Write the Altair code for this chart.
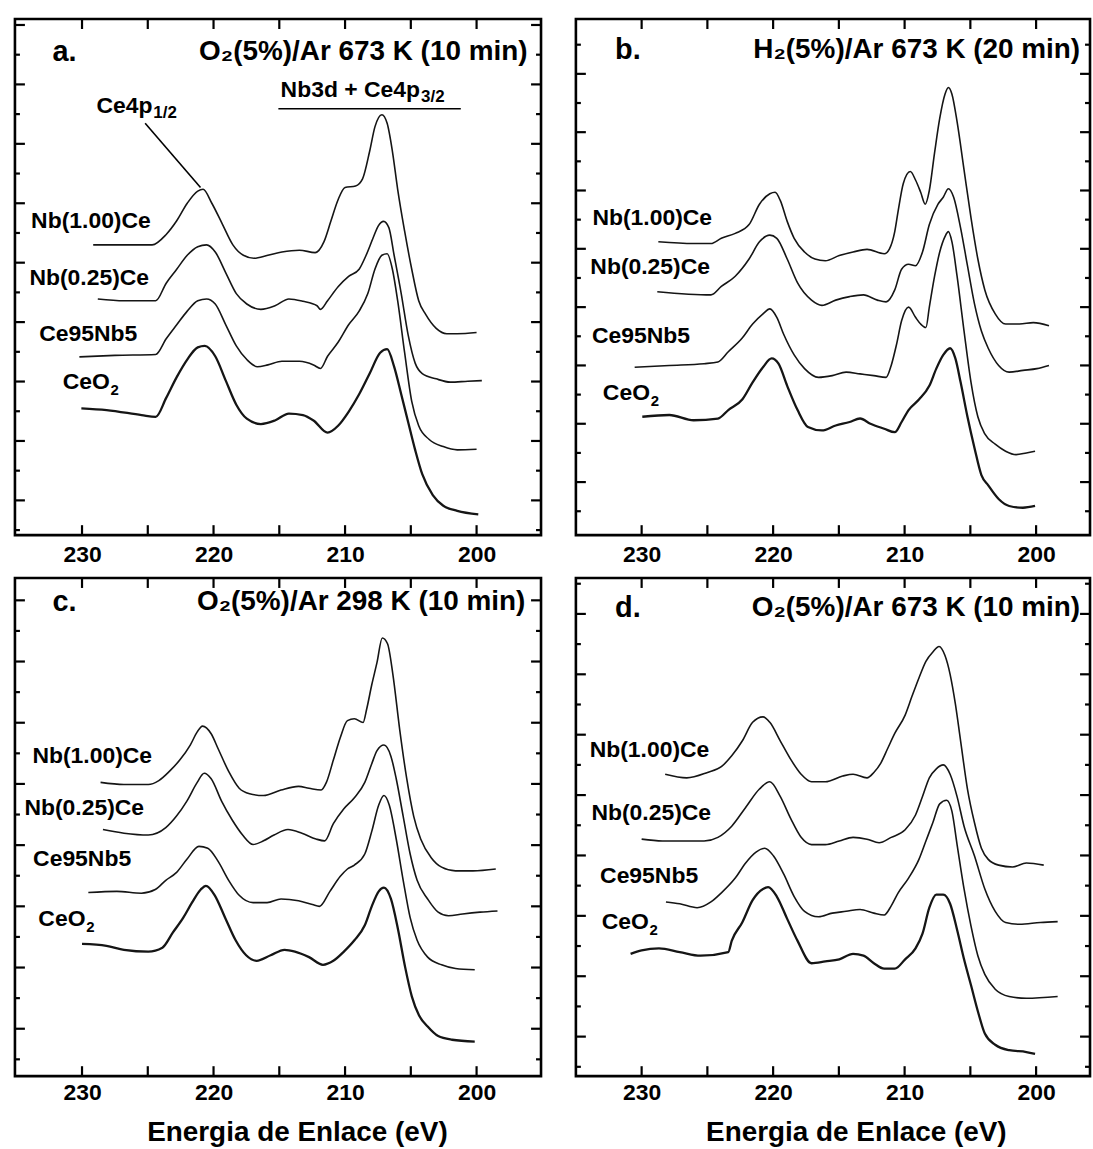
import altair as alt
import pandas as pd

FONT = "Liberation Sans"
INK = "#151515"

SAMPLES = ["Nb(1.00)Ce", "Nb(0.25)Ce", "Ce95Nb5", "CeO2"]
XLABELS = [230, 220, 210, 200]
XTICKS = [230, 225, 220, 215, 210, 205, 200]

# ---------------- panel a : O2(5%)/Ar 673 K (10 min) ----------------
A_NB100 = [(229.15, 9.77), (228.13, 9.77), (226.8, 9.77), (224.67, 9.77), (223.6, 10.12), (222.8, 10.58),
           (222.0, 11.17), (221.2, 11.58), (220.8, 11.64), (220.13, 11.17), (219.33, 10.47), (218.53, 9.77),
           (217.73, 9.42), (216.93, 9.32), (215.87, 9.42), (214.8, 9.53), (213.47, 9.59), (212.27, 9.51),
           (211.6, 9.88), (211.07, 10.58), (210.53, 11.29), (210.0, 11.70), (209.2, 11.75), (208.67, 11.99),
           (208.13, 12.92), (207.73, 13.74), (207.2, 14.15), (206.8, 13.86), (206.4, 12.92), (206.0, 11.64),
           (205.47, 10.23), (204.93, 8.95), (204.4, 7.89), (203.87, 7.43), (203.07, 6.96), (202.27, 6.78),
           (201.47, 6.78), (200.0, 6.82)]
A_NB025 = [(228.8, 7.95), (226.8, 7.89), (224.4, 7.89), (223.6, 8.48), (222.8, 8.95), (222.0, 9.42),
           (221.2, 9.71), (220.53, 9.77), (219.87, 9.53), (219.07, 8.83), (218.27, 8.13), (217.47, 7.78),
           (216.4, 7.60), (215.33, 7.72), (214.27, 7.95), (213.2, 7.87), (212.13, 7.72), (211.87, 7.60),
           (211.33, 7.89), (210.53, 8.36), (209.73, 8.71), (208.93, 8.95), (208.4, 9.42), (207.87, 10.0),
           (207.47, 10.41), (207.07, 10.56), (206.67, 10.35), (206.27, 9.42), (205.73, 8.13), (205.2, 6.73),
           (204.67, 5.79), (204.13, 5.44), (203.07, 5.26), (202.0, 5.15), (200.67, 5.18), (199.6, 5.20)]
A_CE95 = [(230.2, 6.0), (227.5, 6.05), (224.4, 6.08), (223.6, 6.61), (222.8, 7.08), (222.0, 7.54),
          (221.2, 7.89), (220.53, 7.95), (219.87, 7.78), (219.07, 7.08), (218.27, 6.37), (217.47, 5.91),
          (216.67, 5.67), (215.87, 5.73), (214.8, 5.85), (213.47, 5.85), (212.4, 5.73), (211.87, 5.61),
          (211.33, 6.02), (210.53, 6.49), (209.73, 7.08), (208.93, 7.54), (208.27, 8.13), (207.73, 8.95),
          (207.2, 9.42), (206.8, 9.47), (206.4, 8.95), (206.0, 7.89), (205.47, 6.14), (204.93, 4.50),
          (204.4, 3.68), (203.6, 3.22), (202.53, 2.98), (201.47, 2.87), (200.0, 2.89)]
A_CEO2 = [(230.05, 4.27), (228.13, 4.21), (225.47, 4.04), (224.4, 3.98), (223.6, 4.62), (222.8, 5.32),
          (222.0, 5.91), (221.2, 6.32), (220.67, 6.37), (219.87, 6.02), (219.07, 5.20), (218.27, 4.39),
          (217.47, 3.92), (216.4, 3.74), (215.33, 3.86), (214.27, 4.09), (213.2, 4.04), (212.4, 3.86),
          (211.33, 3.45), (210.53, 3.68), (209.73, 4.15), (208.93, 4.74), (208.13, 5.44), (207.33, 6.14),
          (206.8, 6.26), (206.27, 5.67), (205.73, 4.74), (205.2, 3.80), (204.67, 2.87), (204.13, 2.05),
          (203.33, 1.35), (202.53, 0.99), (201.47, 0.82), (199.87, 0.70)]

# ---------------- panel b : H2(5%)/Ar 673 K (20 min) ----------------
B_NB100 = [(228.73, 10.06), (226.05, 10.0), (224.73, 10.0), (223.94, 10.18), (222.88, 10.35), (221.83, 10.65),
           (221.04, 11.35), (220.25, 11.71), (219.85, 11.76), (219.45, 11.47), (218.93, 10.76), (218.40, 10.18),
           (217.61, 9.71), (216.82, 9.47), (216.03, 9.41), (214.97, 9.59), (213.92, 9.71), (212.86, 9.8),
           (211.55, 9.65), (211.15, 9.82), (210.75, 10.41), (210.49, 11.12), (210.10, 12.06), (209.57, 12.47),
           (209.17, 12.18), (208.78, 11.76), (208.43, 11.35), (208.12, 11.82), (207.72, 13.12), (207.33, 14.29),
           (206.93, 15.12), (206.67, 15.35), (206.40, 15.12), (206.01, 14.18), (205.48, 12.53), (204.95, 10.88),
           (204.43, 9.47), (203.90, 8.41), (203.11, 7.59), (202.32, 7.24), (201.26, 7.24), (200.21, 7.29),
           (199.02, 7.18)]
B_NB025 = [(228.81, 8.35), (224.73, 8.24), (223.94, 8.53), (222.88, 8.88), (221.83, 9.47), (221.04, 10.06),
           (220.25, 10.29), (219.72, 10.18), (218.93, 9.47), (218.14, 8.65), (217.08, 8.06), (216.29, 7.88),
           (215.24, 8.06), (214.18, 8.18), (213.13, 8.24), (212.07, 8.06), (211.41, 8.0), (210.75, 8.41),
           (210.23, 9.12), (209.70, 9.29), (209.17, 9.24), (208.64, 9.71), (208.12, 10.65), (207.46, 11.35),
           (207.06, 11.59), (206.67, 11.88), (206.27, 11.59), (205.74, 10.53), (205.22, 9.24), (204.69, 7.94),
           (204.16, 7.0), (203.64, 6.41), (202.85, 5.82), (202.05, 5.59), (201.0, 5.65), (199.94, 5.71),
           (199.02, 5.82)]
B_CE95 = [(230.53, 5.76), (227.89, 5.82), (225.25, 5.88), (224.20, 5.94), (223.41, 6.29), (222.35, 6.76),
          (221.56, 7.24), (220.77, 7.59), (220.25, 7.76), (219.72, 7.47), (219.19, 6.88), (218.40, 6.18),
          (217.61, 5.71), (216.55, 5.41), (215.50, 5.47), (214.45, 5.59), (213.39, 5.53), (212.34, 5.47),
          (211.41, 5.41), (211.02, 5.82), (210.62, 6.53), (210.23, 7.35), (209.70, 7.82), (209.17, 7.47),
          (208.78, 7.24), (208.38, 7.12), (208.12, 7.82), (207.72, 8.88), (207.33, 9.71), (206.93, 10.24),
          (206.67, 10.41), (206.40, 10.06), (206.01, 8.88), (205.48, 7.0), (204.95, 5.24), (204.43, 4.06),
          (203.90, 3.47), (203.11, 3.12), (202.32, 2.88), (201.53, 2.76), (200.74, 2.82), (200.08, 2.88)]
B_CEO2 = [(229.95, 4.06), (227.89, 4.12), (226.05, 3.94), (224.20, 4.0), (223.41, 4.29), (222.35, 4.65),
          (221.56, 5.24), (220.77, 5.76), (220.11, 6.06), (219.59, 5.88), (218.93, 5.12), (218.14, 4.29),
          (217.35, 3.71), (216.29, 3.59), (215.24, 3.76), (214.18, 3.88), (213.39, 4.0), (212.60, 3.82),
          (211.55, 3.65), (210.75, 3.53), (210.23, 3.88), (209.70, 4.29), (208.91, 4.65), (208.12, 5.12),
          (207.59, 5.71), (207.06, 6.18), (206.54, 6.41), (206.14, 6.06), (205.74, 5.24), (205.22, 4.06),
          (204.69, 3.0), (204.16, 2.06), (203.64, 1.71), (202.85, 1.24), (202.05, 1.0), (201.0, 0.94),
          (200.08, 1.0)]

# ---------------- panel c : O2(5%)/Ar 298 K (10 min) ----------------
C_NB100 = [(228.59, 9.60), (226.81, 9.53), (224.96, 9.53), (224.16, 9.66), (223.36, 9.96), (222.57, 10.33),
           (221.77, 10.82), (221.24, 11.25), (220.84, 11.44), (220.18, 11.19), (219.65, 10.70), (218.85, 9.96),
           (218.05, 9.41), (217.26, 9.23), (216.20, 9.17), (214.87, 9.35), (213.54, 9.47), (212.74, 9.41),
           (211.82, 9.35), (211.42, 9.60), (210.89, 10.33), (210.36, 11.07), (209.82, 11.62), (209.29, 11.68),
           (208.63, 11.56), (208.36, 11.99), (207.97, 12.79), (207.57, 13.52), (207.17, 14.32), (206.77, 14.13),
           (206.37, 13.15), (205.84, 11.31), (205.31, 9.72), (204.78, 8.49), (204.25, 7.75), (203.45, 7.14),
           (202.66, 6.83), (201.60, 6.71), (200.27, 6.71), (198.54, 6.77)]
C_NB025 = [(228.41, 8.06), (226.81, 7.94), (224.96, 7.88), (223.63, 8.12), (222.83, 8.49), (222.04, 8.98),
           (221.24, 9.60), (220.71, 9.90), (220.18, 9.72), (219.38, 8.98), (218.58, 8.37), (217.79, 7.88),
           (216.99, 7.57), (216.20, 7.69), (215.40, 7.88), (214.34, 8.06), (213.28, 7.94), (212.21, 7.75),
           (211.55, 7.69), (210.89, 8.25), (210.09, 8.74), (209.29, 9.10), (208.50, 9.60), (207.97, 10.21),
           (207.57, 10.64), (207.04, 10.82), (206.51, 10.45), (206.11, 9.72), (205.58, 8.49), (205.05, 7.26),
           (204.52, 6.40), (203.72, 5.79), (202.92, 5.36), (202.13, 5.24), (201.06, 5.30), (199.74, 5.36),
           (198.41, 5.40)]
C_CE95 = [(229.52, 6.0), (227.35, 6.04), (225.49, 5.98), (224.43, 6.10), (223.63, 6.40), (222.83, 6.65),
          (222.04, 7.08), (221.11, 7.51), (220.44, 7.45), (219.65, 7.02), (218.85, 6.40), (218.05, 5.91),
          (216.99, 5.67), (215.93, 5.67), (214.87, 5.79), (213.54, 5.73), (212.48, 5.61), (211.95, 5.55),
          (211.15, 6.04), (210.36, 6.53), (209.82, 6.77), (209.29, 6.90), (208.50, 7.26), (207.97, 8.0),
          (207.44, 8.86), (207.04, 9.17), (206.64, 8.86), (206.11, 7.75), (205.58, 6.40), (205.05, 5.18),
          (204.52, 4.44), (203.72, 3.89), (202.66, 3.64), (201.60, 3.52), (200.14, 3.48)]
C_CEO2 = [(230.0, 4.32), (228.14, 4.26), (226.81, 4.13), (224.96, 4.07), (223.89, 4.20), (223.10, 4.69),
          (222.30, 5.18), (221.64, 5.67), (220.97, 6.10), (220.58, 6.22), (219.91, 5.91), (219.12, 5.18),
          (218.32, 4.44), (217.52, 3.95), (216.73, 3.77), (215.66, 3.95), (214.60, 4.13), (213.81, 4.07),
          (212.74, 3.89), (211.68, 3.64), (210.89, 3.77), (210.09, 4.07), (209.29, 4.44), (208.50, 4.93),
          (207.97, 5.55), (207.44, 6.04), (207.04, 6.16), (206.51, 5.79), (205.98, 4.81), (205.44, 3.58),
          (204.92, 2.60), (204.38, 1.99), (203.72, 1.62), (202.92, 1.31), (201.86, 1.19), (200.14, 1.13)]

# ---------------- panel d : O2(5%)/Ar 673 K (10 min) ----------------
D_NB100 = [(228.21, 10.0), (226.57, 9.88), (224.99, 10.06), (223.94, 10.25), (223.15, 10.61), (222.35, 11.10),
           (221.56, 11.72), (220.77, 11.90), (220.25, 11.72), (219.45, 11.10), (218.66, 10.49), (217.87, 10.0),
           (217.08, 9.75), (216.03, 9.75), (214.71, 9.94), (213.92, 10.0), (212.86, 9.88), (212.34, 10.06),
           (211.81, 10.37), (211.28, 10.86), (210.75, 11.35), (209.96, 11.96), (209.44, 12.58), (208.91, 13.19),
           (208.38, 13.74), (207.85, 14.05), (207.38, 14.23), (206.93, 13.93), (206.54, 13.31), (206.14, 12.33),
           (205.74, 11.10), (205.22, 9.51), (204.69, 8.40), (204.16, 7.55), (203.64, 7.18), (202.85, 6.99),
           (201.79, 6.93), (200.74, 7.06), (199.42, 6.99)]
D_NB025 = [(230.0, 7.85), (228.42, 7.79), (226.57, 7.79), (225.25, 7.79), (224.20, 7.91), (223.15, 8.28),
           (222.09, 8.90), (221.04, 9.51), (220.25, 9.75), (219.45, 9.26), (218.66, 8.53), (217.87, 7.91),
           (217.08, 7.67), (216.03, 7.67), (214.97, 7.79), (213.92, 7.91), (212.86, 7.85), (211.94, 7.73),
           (211.02, 7.91), (209.96, 8.16), (209.17, 8.65), (208.64, 9.26), (208.12, 9.88), (207.59, 10.18),
           (207.06, 10.31), (206.54, 10.0), (206.01, 9.26), (205.48, 8.28), (204.69, 7.30), (203.90, 6.20),
           (203.11, 5.46), (202.32, 5.09), (201.26, 5.03), (199.68, 5.09), (198.36, 5.12)]
D_CE95 = [(228.15, 5.77), (227.10, 5.71), (225.78, 5.58), (224.73, 5.77), (223.94, 6.07), (222.88, 6.56),
          (222.09, 7.06), (221.30, 7.42), (220.64, 7.55), (219.98, 7.30), (219.19, 6.69), (218.40, 5.95),
          (217.61, 5.46), (216.55, 5.28), (215.50, 5.40), (214.45, 5.46), (213.39, 5.52), (212.34, 5.40),
          (211.55, 5.34), (211.02, 5.64), (210.49, 6.07), (209.70, 6.56), (208.91, 7.18), (208.38, 7.79),
          (207.85, 8.40), (207.33, 9.02), (206.80, 9.14), (206.40, 8.77), (206.01, 7.67), (205.48, 6.20),
          (204.95, 4.97), (204.43, 3.99), (203.90, 3.37), (203.11, 2.88), (202.05, 2.64), (200.74, 2.58),
          (198.36, 2.64)]
D_CEO2 = [(230.84, 4.05), (230.0, 4.17), (228.68, 4.23), (227.10, 4.11), (225.52, 3.99), (223.41, 4.11),
          (223.15, 4.48), (222.35, 5.09), (221.56, 5.83), (220.77, 6.20), (220.38, 6.26), (219.72, 5.95),
          (218.93, 5.21), (218.14, 4.48), (217.08, 3.74), (216.03, 3.80), (214.97, 3.87), (213.92, 4.05),
          (213.13, 3.99), (212.34, 3.74), (211.55, 3.56), (210.75, 3.56), (209.96, 3.87), (209.17, 4.23),
          (208.64, 4.72), (208.12, 5.58), (207.59, 6.01), (207.06, 6.01), (206.54, 5.71), (206.01, 4.85),
          (205.48, 3.87), (204.95, 3.01), (204.43, 2.15), (203.90, 1.41), (203.11, 1.04), (202.05, 0.86),
          (200.74, 0.80), (200.08, 0.74)]

# sample labels (left edge in eV, vertical centre in intensity units)
LAB_A = [("Nb(1.00)Ce", 233.87, 10.58), ("Nb(0.25)Ce", 234.0, 8.65), ("Ce95Nb5", 233.25, 6.78), ("CeO", 231.47, 5.15)]
LAB_B = [("Nb(1.00)Ce", 233.74, 10.88), ("Nb(0.25)Ce", 233.9, 9.18), ("Ce95Nb5", 233.77, 6.82), ("CeO", 232.95, 4.88)]
LAB_C = [("Nb(1.00)Ce", 233.77, 10.45), ("Nb(0.25)Ce", 234.38, 8.76), ("Ce95Nb5", 233.72, 7.08), ("CeO", 233.32, 5.12)]
LAB_D = [("Nb(1.00)Ce", 233.95, 10.8), ("Nb(0.25)Ce", 233.82, 8.71), ("Ce95Nb5", 233.16, 6.63), ("CeO", 233.03, 5.09)]

TITLES = {
    "a": ("a.", "O\u2082(5%)/Ar 673 K (10 min)"),
    "b": ("b.", "H\u2082(5%)/Ar 673 K (20 min)"),
    "c": ("c.", "O\u2082(5%)/Ar 298 K (10 min)"),
    "d": ("d.", "O\u2082(5%)/Ar 673 K (10 min)"),
}
AXIS_TITLE = "Energia de Enlace (eV)"


def curve_frame(series):
    rows = []
    for name, pts in zip(SAMPLES, series):
        for e, i in pts:
            rows.append({"sample": name, "E": e, "I": i})
    return pd.DataFrame(rows)


def panel(key, series, labels, xdom, ydom, W, H, ytick0, letter_pos, title_pos,
          bottom_title=False, label_pad=8, title_x=0, annot=False):
    xs = alt.Scale(domain=xdom, reverse=True, nice=False, zero=False)
    ys = alt.Scale(domain=ydom, nice=False, zero=False)
    axis_kw = dict(values=XLABELS, ticks=False, domain=False, grid=False, labelFont=FONT,
                   labelFontSize=23, labelFontWeight="bold", labelColor="black",
                   labelPadding=label_pad, labelFlush=False, format="d")
    if bottom_title:
        axis_kw.update(title=AXIS_TITLE, titleFont=FONT, titleFontSize=28, titleFontWeight="bold",
                       titleColor="black", titleX=title_x, titleY=65, titleBaseline="alphabetic",
                       titleAlign="center")
    else:
        axis_kw.update(title=None)
    xaxis = alt.Axis(**axis_kw)

    def X(f="E"):
        return alt.X(f"{f}:Q", scale=xs, axis=xaxis)

    def Y(f="I"):
        return alt.Y(f"{f}:Q", scale=ys, axis=None)

    layers = []
    df = curve_frame(series)
    layers.append(
        alt.Chart(df).mark_line(color=INK, strokeJoin="round", interpolate="monotone").encode(
            x=X(), y=Y(), detail="sample:N",
            strokeWidth=alt.condition("datum.sample === 'CeO2'", alt.value(2.3), alt.value(1.6)),
        )
    )

    # inward ticks on all four sides
    xt = pd.DataFrame({"E": XTICKS})
    tk = dict(color="black", strokeWidth=2.2)
    layers.append(alt.Chart(xt).mark_rule(**tk).encode(x=X(), y=alt.value(0), y2=alt.value(10)))
    layers.append(alt.Chart(xt).mark_rule(**tk).encode(x=X(), y=alt.value(H), y2=alt.value(H - 10)))
    yv = [round(ytick0 + k, 2) for k in range(0, 19) if ytick0 + k < ydom[1] - 0.1]
    longs = pd.DataFrame({"I": yv[1::2]})
    shorts = pd.DataFrame({"I": yv[0::2]})
    for d, L in ((longs, 10), (shorts, 5)):
        layers.append(alt.Chart(d).mark_rule(**tk).encode(y=Y(), x=alt.value(0), x2=alt.value(L)))
        layers.append(alt.Chart(d).mark_rule(**tk).encode(y=Y(), x=alt.value(W), x2=alt.value(W - L)))

    # sample labels
    lab = pd.DataFrame(labels, columns=["text", "E", "I"])
    layers.append(
        alt.Chart(lab).mark_text(align="left", baseline="middle", font=FONT, fontSize=23,
                                 fontWeight="bold", color="black").encode(x=X(), y=Y(), text="text:N")
    )
    sub = lab[lab["text"] == "CeO"].assign(text="2")
    layers.append(
        alt.Chart(sub).mark_text(align="left", baseline="middle", font=FONT, fontSize=15,
                                 fontWeight="bold", color="black", dx=48, dy=8).encode(x=X(), y=Y(), text="text:N")
    )

    # panel letter and condition title
    letter, title = TITLES[key]
    lt = pd.DataFrame([{"text": letter, "E": letter_pos[0], "I": letter_pos[1]}])
    layers.append(
        alt.Chart(lt).mark_text(align="center", baseline="middle", font=FONT, fontSize=29,
                                fontWeight="bold", color="black").encode(x=X(), y=Y(), text="text:N")
    )
    tt = pd.DataFrame([{"text": title, "E": title_pos[0], "I": title_pos[1]}])
    layers.append(
        alt.Chart(tt).mark_text(align="right", baseline="middle", font=FONT, fontSize=28,
                                fontWeight="bold", color="black").encode(x=X(), y=Y(), text="text:N")
    )

    if annot:
        ann = pd.DataFrame([{"text": "Ce4p", "E": 228.9, "I": 14.44},
                            {"text": "Nb3d + Ce4p", "E": 214.9, "I": 14.97}])
        layers.append(
            alt.Chart(ann).mark_text(align="left", baseline="middle", font=FONT, fontSize=23,
                                     fontWeight="bold", color="black").encode(x=X(), y=Y(), text="text:N")
        )
        s1 = pd.DataFrame([{"text": "1/2", "E": 228.9, "I": 14.44}])
        layers.append(
            alt.Chart(s1).mark_text(align="left", baseline="middle", font=FONT, fontSize=17,
                                    fontWeight="bold", color="black", dx=57, dy=7).encode(x=X(), y=Y(), text="text:N")
        )
        s2 = pd.DataFrame([{"text": "3/2", "E": 214.9, "I": 14.97}])
        layers.append(
            alt.Chart(s2).mark_text(align="left", baseline="middle", font=FONT, fontSize=17,
                                    fontWeight="bold", color="black", dx=141, dy=7).encode(x=X(), y=Y(), text="text:N")
        )
        lines = pd.DataFrame([{"E": 225.2, "I": 13.86, "E2": 220.99, "I2": 11.70},
                              {"E": 215.07, "I": 14.35, "E2": 201.2, "I2": 14.35}])
        layers.append(
            alt.Chart(lines).mark_rule(color="black", strokeWidth=1.6).encode(
                x=X(), y=Y(), x2="E2:Q", y2="I2:Q")
        )

    return alt.layer(*layers).properties(width=W, height=H)


pa = panel("a", [A_NB100, A_NB025, A_CE95, A_CEO2], LAB_A, [195.1, 235.1], [0, 17.37], 528, 518, 0.17,
           (231.33, 16.26), (196.13, 16.26), label_pad=8, annot=True)
pb = panel("b", [B_NB100, B_NB025, B_CE95, B_CEO2], LAB_B, [195.9, 235.0], [0, 17.7], 516, 518, 0.82,
           (231.05, 16.65), (196.65, 16.65), label_pad=8)
pc = panel("c", [C_NB100, C_NB025, C_CE95, C_CEO2], LAB_C, [195.1, 235.1], [0, 16.28], 528, 500, 0.55,
           (231.33, 15.48), (196.29, 15.48), bottom_title=True, label_pad=5, title_x=283)
pd_ = panel("d", [D_NB100, D_NB025, D_CE95, D_CEO2], LAB_D, [195.9, 235.0], [0, 16.5], 516, 500, 0.31,
            (231.05, 15.52), (196.65, 15.52), bottom_title=True, label_pad=5, title_x=281)

chart = alt.concat(
    pa, pb, pc, pd_, columns=2, spacing={"row": 43, "column": 35}, bounds="flush"
).properties(
    padding={"left": 12, "top": 14, "right": 0, "bottom": 0},
    background="white",
).configure_view(stroke="black", strokeWidth=2.6)

chart.save("out.html", embed_options={"renderer": "svg", "actions": False})
